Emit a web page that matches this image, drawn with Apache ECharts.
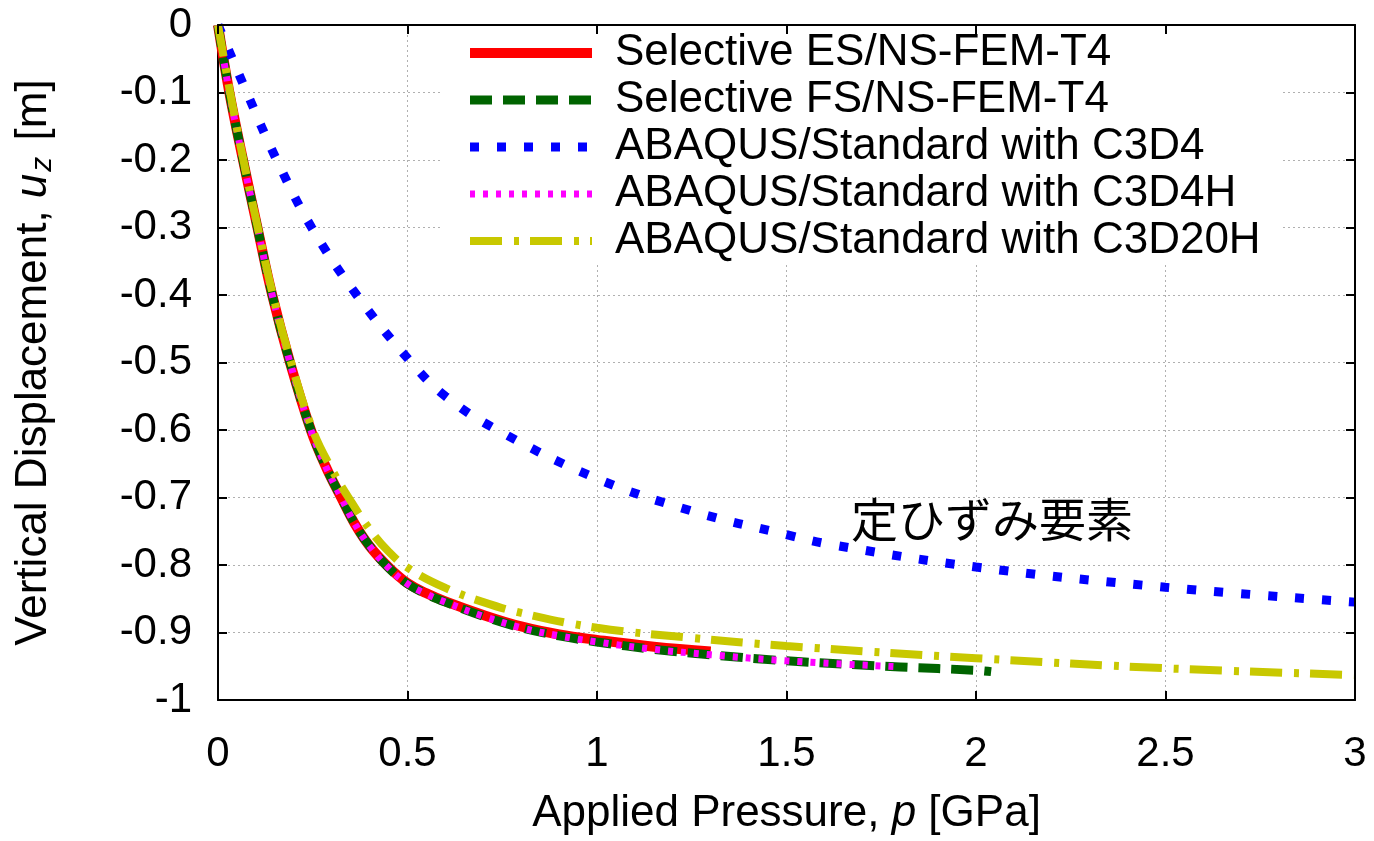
<!DOCTYPE html>
<html>
<head>
<meta charset="utf-8">
<script src="https://cdn.jsdelivr.net/npm/echarts@6/dist/echarts.min.js"></script>
<style>
  html, body { margin: 0; padding: 0; background: #fff; }
  #main { width: 1374px; height: 841px; }
</style>
</head>
<body>
<div id="main"></div>
<script>
// pressure p [GPa] / displacement uz [m]
const esP = [0, 0.03, 0.066, 0.104, 0.143, 0.19, 0.245, 0.285, 0.325, 0.36, 0.4, 0.45, 0.5, 0.55, 0.6, 0.7, 0.8, 0.9, 1.0, 1.15, 1.3];
const esU = [0, -0.1, -0.2, -0.3, -0.4, -0.5, -0.6, -0.655, -0.7, -0.738, -0.772, -0.803, -0.827, -0.842, -0.854, -0.874, -0.891, -0.903, -0.911, -0.921, -0.928];

const fsP = [0, 0.03, 0.066, 0.104, 0.143, 0.19, 0.245, 0.285, 0.325, 0.36, 0.4, 0.45, 0.5, 0.55, 0.6, 0.7, 0.8, 0.9, 1.0, 1.15, 1.3, 1.5, 1.8, 2.0, 2.04];
const fsU = [0, -0.1, -0.2, -0.3, -0.4, -0.5, -0.6, -0.655, -0.7, -0.738, -0.772, -0.804, -0.828, -0.843, -0.855, -0.876, -0.893, -0.905, -0.914, -0.925, -0.933, -0.942, -0.951, -0.956, -0.958];

const c3d4P = [0, 0.076, 0.155, 0.247, 0.366, 0.51, 0.6, 0.737, 1.0, 1.25, 1.5, 1.62, 2.0, 2.5, 3.0];
const c3d4U = [0, -0.1, -0.2, -0.3, -0.4, -0.5, -0.55, -0.6, -0.672, -0.72, -0.755, -0.77, -0.803, -0.833, -0.855];

const c3d4hP = [0, 0.03, 0.066, 0.104, 0.143, 0.19, 0.245, 0.285, 0.325, 0.36, 0.4, 0.45, 0.5, 0.55, 0.6, 0.7, 0.8, 0.9, 1.0, 1.15, 1.3, 1.5, 1.8];
const c3d4hU = [0, -0.1, -0.2, -0.3, -0.4, -0.5, -0.6, -0.655, -0.7, -0.738, -0.772, -0.804, -0.828, -0.843, -0.855, -0.876, -0.893, -0.905, -0.914, -0.925, -0.933, -0.942, -0.951];

const c3d20hP = [0, 0.032, 0.067, 0.105, 0.145, 0.193, 0.25, 0.3, 0.35, 0.4, 0.45, 0.5, 0.6, 0.7, 0.8, 1.0, 1.25, 1.5, 2.0, 2.5, 3.0];
const c3d20hU = [0, -0.1, -0.2, -0.3, -0.4, -0.5, -0.6, -0.658, -0.705, -0.747, -0.78, -0.804, -0.834, -0.855, -0.871, -0.893, -0.908, -0.92, -0.938, -0.953, -0.963];

const names = [
  'Selective ES/NS-FEM-T4',
  'Selective FS/NS-FEM-T4',
  'ABAQUS/Standard with C3D4',
  'ABAQUS/Standard with C3D4H',
  'ABAQUS/Standard with C3D20H'
];
const note = '定ひずみ要素';

const FONT = '"Liberation Sans", Arial, Helvetica, sans-serif';

function pairs(xs, ys) {
  return xs.map((x, i) => [x, ys[i]]);
}

function line(name, xs, ys, color, width, type) {
  return {
    name: name,
    type: 'line',
    data: pairs(xs, ys),
    showSymbol: false,
    symbol: 'none',
    smooth: 0.4,
    clip: false,
    lineStyle: { color: color, width: width, type: type, cap: 'butt' },
    itemStyle: { color: color },
    emphasis: { disabled: true }
  };
}

const chart = echarts.init(document.getElementById('main'));

const mirrorTick = { show: true, inside: true, length: 9, lineStyle: { color: '#000', width: 2 } };

chart.setOption({
  animation: false,
  backgroundColor: '#fff',
  grid: { left: 218, right: 19, top: 25, bottom: 135 },
  legend: {
    orient: 'vertical',
    left: 440,
    top: 28,
    backgroundColor: '#fff',
    padding: [2, 20, 0, 25],
    itemWidth: 122,
    itemHeight: 12,
    itemGap: 1,
    selectedMode: false,
    // hide the dot that the line icon carries, keep the line itself
    itemStyle: { opacity: 0 },
    lineStyle: { width: 'inherit' },
    textStyle: {
      fontFamily: FONT,
      fontSize: 44,
      lineHeight: 46,
      color: '#000',
      padding: [0, 0, 0, 18]
    },
    data: names
  },
  xAxis: [{
    type: 'value',
    min: 0,
    max: 3,
    interval: 0.5,
    name: 'Applied Pressure, {i|p} [GPa]',
    nameLocation: 'middle',
    nameGap: 92,
    nameTextStyle: {
      fontFamily: FONT, fontSize: 44, color: '#000',
      rich: { i: { fontFamily: FONT, fontSize: 44, fontStyle: 'italic', color: '#000' } }
    },
    axisLine: { show: true, onZero: false, lineStyle: { color: '#000', width: 2 } },
    axisTick: mirrorTick,
    axisLabel: {
      fontFamily: FONT, fontSize: 42, color: '#000', margin: 33,
      formatter: v => String(Math.round(v * 10) / 10)
    },
    splitLine: { show: true, lineStyle: { color: '#b0b0b0', width: 1, type: [2, 3] } }
  }, {
    type: 'value',
    position: 'top',
    min: 0,
    max: 3,
    interval: 0.5,
    z: 10,
    axisLine: { show: true, onZero: false, lineStyle: { color: '#000', width: 2 } },
    axisTick: mirrorTick,
    axisLabel: { show: false },
    splitLine: { show: false }
  }],
  yAxis: [{
    type: 'value',
    min: -1,
    max: 0,
    interval: 0.1,
    name: 'Vertical Displacement, {i|u}{sub|z} [m]',
    nameLocation: 'middle',
    nameGap: 160,
    nameTextStyle: {
      fontFamily: FONT, fontSize: 44, color: '#000',
      rich: {
        i: { fontFamily: FONT, fontSize: 44, fontStyle: 'italic', color: '#000' },
        sub: { fontFamily: FONT, fontSize: 30, fontStyle: 'italic', color: '#000', verticalAlign: 'bottom', padding: [18, 4, 0, 2] }
      }
    },
    axisLine: { show: true, onZero: false, lineStyle: { color: '#000', width: 2 } },
    axisTick: mirrorTick,
    axisLabel: {
      fontFamily: FONT, fontSize: 42, color: '#000', margin: 26,
      formatter: v => String(Math.round(v * 10) / 10)
    },
    splitLine: { show: true, lineStyle: { color: '#b0b0b0', width: 1, type: [2, 3] } }
  }, {
    type: 'value',
    position: 'right',
    min: -1,
    max: 0,
    interval: 0.1,
    z: 10,
    axisLine: { show: true, onZero: false, lineStyle: { color: '#000', width: 2 } },
    axisTick: mirrorTick,
    axisLabel: { show: false },
    splitLine: { show: false }
  }],
  graphic: [{
    type: 'text',
    left: 851,
    top: 496,
    style: {
      text: note,
      fontFamily: '"Noto Sans CJK JP", sans-serif',
      fontSize: 47,
      fill: '#000'
    }
  }],
  series: [
    line(names[0], esP, esU, '#ff0000', 10, 'solid'),
    line(names[1], fsP, fsU, '#006400', 9, [22, 11]),
    line(names[2], c3d4P, c3d4U, '#0000ff', 9, [9, 18]),
    line(names[3], c3d4hP, c3d4hU, '#ff00ff', 7, [5, 8]),
    line(names[4], c3d20hP, c3d20hU, '#c8c800', 8, [32, 12, 5, 11])
  ]
});
</script>
</body>
</html>
